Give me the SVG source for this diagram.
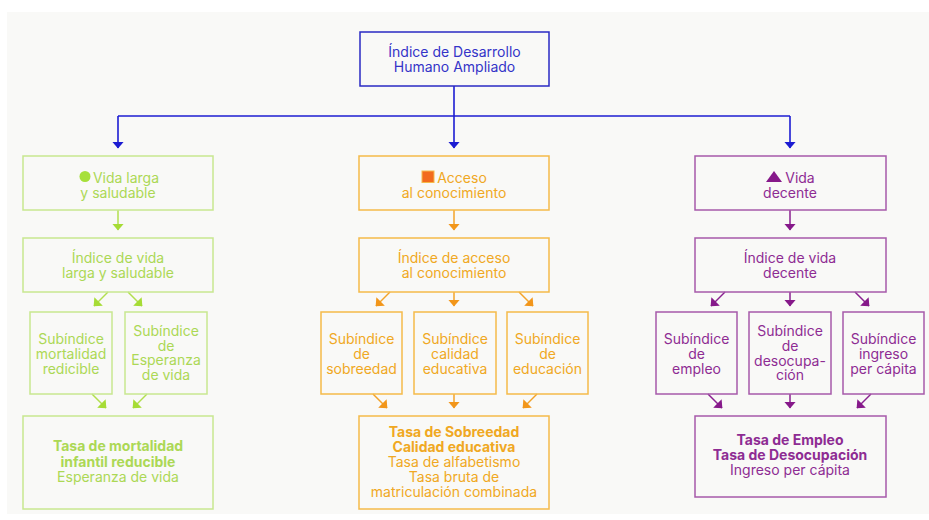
<svg xmlns="http://www.w3.org/2000/svg" width="929" height="520" viewBox="0 0 929 520">
<defs>
<style>
text{font-family:Inter,"Noto Sans","Liberation Sans",sans-serif;font-size:14px;text-anchor:middle}
.b{font-weight:700}
.box{fill:none;stroke-width:1.5}
.blue rect{stroke:#2a2ac4}.blue text{fill:#3434c8}
.g rect{stroke:#c8e790}.g text{fill:#acd855}
.o rect{stroke:#f5ba4a}.o text{fill:#f0a823}
.p rect{stroke:#a65aaa}.p text{fill:#8e2c93}
.cb{stroke:#1c1cd2;stroke-width:1.6;fill:none}
.cg{stroke:#b2df4f;stroke-width:1.5;fill:none}
.co{stroke:#f3a32a;stroke-width:1.5;fill:none}
.cp{stroke:#8a2190;stroke-width:1.5;fill:none}
</style>
<marker id="ab" viewBox="0 0 7 12" refX="6.5" refY="6" markerWidth="7" markerHeight="12" markerUnits="userSpaceOnUse" orient="auto"><path d="M0,0L7,6L0,12z" fill="#1c1cd2"/></marker>
<marker id="ag" viewBox="0 0 7 12" refX="6.5" refY="6" markerWidth="7" markerHeight="12" markerUnits="userSpaceOnUse" orient="auto"><path d="M0,0L7,6L0,12z" fill="#a6dc35"/></marker>
<marker id="ao" viewBox="0 0 7 12" refX="6.5" refY="6" markerWidth="7" markerHeight="12" markerUnits="userSpaceOnUse" orient="auto"><path d="M0,0L7,6L0,12z" fill="#f2961a"/></marker>
<marker id="ap" viewBox="0 0 7 12" refX="6.5" refY="6" markerWidth="7" markerHeight="12" markerUnits="userSpaceOnUse" orient="auto"><path d="M0,0L7,6L0,12z" fill="#86198a"/></marker>
</defs>
<rect x="0" y="0" width="929" height="520" fill="#ffffff"/>
<rect x="7" y="12" width="922" height="502" fill="#f9f9f7"/>

<g id="connectors">
<path class="cb" d="M454,86V148" marker-end="url(#ab)"/>
<path class="cb" d="M118,116H790"/>
<path class="cb" d="M118,116V148" marker-end="url(#ab)"/>
<path class="cb" d="M790,116V148" marker-end="url(#ab)"/>
<g marker-end="url(#ag)">
<path class="cg" d="M118,210V230"/>
<path class="cg" d="M108,292L94,306"/>
<path class="cg" d="M128,292L142,306"/>
<path class="cg" d="M92,394L106,408"/>
<path class="cg" d="M147,394L133,408"/>
</g>
<g marker-end="url(#ao)">
<path class="co" d="M454,210V230"/>
<path class="co" d="M390,292L376,306"/>
<path class="co" d="M454,292V306"/>
<path class="co" d="M519,292L533,306"/>
<path class="co" d="M373,394L387,408"/>
<path class="co" d="M454,394V408"/>
<path class="co" d="M537,394L523,408"/>
</g>
<g marker-end="url(#ap)">
<path class="cp" d="M790,210V230"/>
<path class="cp" d="M725,292L711,306"/>
<path class="cp" d="M790,292V306"/>
<path class="cp" d="M855,292L869,306"/>
<path class="cp" d="M708,394L722,408"/>
<path class="cp" d="M790,394V408"/>
<path class="cp" d="M871,394L857,408"/>
</g>
</g>

<g id="top" class="blue"><rect class="box" x="360" y="32" width="189" height="54"/>
<text x="454.5" y="57">Índice de Desarrollo</text><text x="454.5" y="72">Humano Ampliado</text></g>

<g id="g1" class="g"><rect class="box" x="23" y="156" width="190" height="54"/>
<circle cx="85" cy="176.5" r="5.5" fill="#a6e03a"/>
<text x="126" y="183">Vida larga</text><text x="118" y="198">y saludable</text></g>
<g id="g2" class="g"><rect class="box" x="23" y="238" width="190" height="54"/>
<text x="118" y="263">Índice de vida</text><text x="118" y="278">larga y saludable</text></g>
<g id="g3" class="g"><rect class="box" x="30" y="312" width="82" height="82"/>
<text x="71" y="344">Subíndice</text><text x="71" y="359">mortalidad</text><text x="71" y="374">redicible</text></g>
<g id="g4" class="g"><rect class="box" x="125" y="312" width="82" height="82"/>
<text x="166" y="336">Subíndice</text><text x="166" y="351">de</text><text x="166" y="365">Esperanza</text><text x="166" y="380">de vida</text></g>
<g id="g5" class="g"><rect class="box" x="23" y="416" width="190" height="93"/>
<text class="b" x="118" y="451">Tasa de mortalidad</text><text class="b" x="118" y="467">infantil reducible</text><text x="118" y="482">Esperanza de vida</text></g>

<g id="o1" class="o"><rect class="box" x="359" y="156" width="190" height="54"/>
<rect x="422" y="171" width="12" height="11.5" fill="#f26b1e"/>
<text x="462" y="183">Acceso</text><text x="454" y="198">al conocimiento</text></g>
<g id="o2" class="o"><rect class="box" x="359" y="238" width="190" height="54"/>
<text x="454" y="263">Índice de acceso</text><text x="454" y="278">al conocimiento</text></g>
<g id="o3" class="o"><rect class="box" x="321" y="312" width="81" height="82"/>
<text x="361.5" y="344">Subíndice</text><text x="361.5" y="359">de</text><text x="361.5" y="374">sobreedad</text></g>
<g id="o4" class="o"><rect class="box" x="414" y="312" width="82" height="82"/>
<text x="455" y="344">Subíndice</text><text x="455" y="359">calidad</text><text x="455" y="374">educativa</text></g>
<g id="o5" class="o"><rect class="box" x="507" y="312" width="81" height="82"/>
<text x="547.5" y="344">Subíndice</text><text x="547.5" y="359">de</text><text x="547.5" y="374">educación</text></g>
<g id="o6" class="o"><rect class="box" x="359" y="416" width="190" height="93"/>
<text class="b" x="454" y="437">Tasa de Sobreedad</text><text class="b" x="454" y="452">Calidad educativa</text><text x="454" y="467">Tasa de alfabetismo</text><text x="454" y="482">Tasa bruta de</text><text x="454" y="497">matriculación combinada</text></g>

<g id="p1" class="p"><rect class="box" x="695" y="156" width="191" height="54"/>
<polygon points="766,182 774,171 782,182" fill="#86198a"/>
<text x="800" y="183">Vida</text><text x="790" y="198">decente</text></g>
<g id="p2" class="p"><rect class="box" x="695" y="238" width="191" height="54"/>
<text x="790" y="263">Índice de vida</text><text x="790" y="278">decente</text></g>
<g id="p3" class="p"><rect class="box" x="656" y="312" width="81" height="82"/>
<text x="696.5" y="344">Subíndice</text><text x="696.5" y="359">de</text><text x="696.5" y="374">empleo</text></g>
<g id="p4" class="p"><rect class="box" x="749" y="312" width="82" height="82"/>
<text x="790" y="336">Subíndice</text><text x="790" y="351">de</text><text x="790" y="366">desocupa-</text><text x="790" y="380">ción</text></g>
<g id="p5" class="p"><rect class="box" x="843" y="312" width="81" height="82"/>
<text x="883.5" y="344">Subíndice</text><text x="883.5" y="359">ingreso</text><text x="883.5" y="374">per cápita</text></g>
<g id="p6" class="p"><rect class="box" x="695" y="416" width="191" height="81"/>
<text class="b" x="790" y="445">Tasa de Empleo</text><text class="b" x="790" y="460">Tasa de Desocupación</text><text x="790" y="475">Ingreso per cápita</text></g>
</svg>
